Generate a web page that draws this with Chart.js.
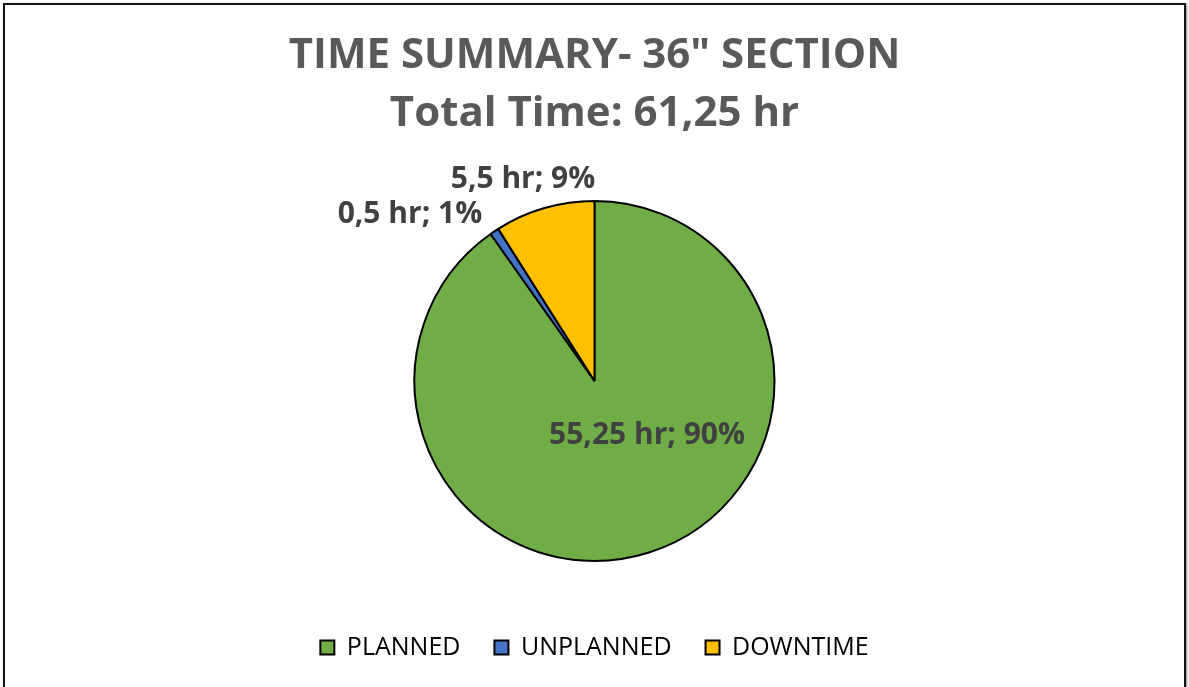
<!DOCTYPE html>
<html>
<head>
<meta charset="UTF-8">
<script src="https://cdn.jsdelivr.net/npm/chart.js@4.4.0/dist/chart.umd.min.js"></script>
<style>
*{box-sizing:border-box;margin:0;padding:0}
html,body{width:1189px;height:687px;overflow:hidden;background:#fff}
.frame{position:absolute;left:3px;top:3px;width:1183px;height:700px;border:2px solid #111;box-shadow:1px 1px 2px #888}
.cw{position:relative;width:1179px;height:682px}
</style>
</head>
<body>
<div class="frame"><div class="cw"><canvas id="pie"></canvas></div></div>
<script>
const categories = ["PLANNED", "UNPLANNED", "DOWNTIME"];
const hours = [55.25, 0.5, 5.5];
const hourLabels = ["55,25", "0,5", "5,5"];
const percentLabels = ["90%", "1%", "9%"];
const colors = ["#70AD47", "#4472C4", "#FFC000"];
const titleLines = ["TIME SUMMARY- 36\" SECTION", "Total Time: 61,25 hr"];

const textColor = "#595959";
const fontFamily = "'Open Sans', 'Noto Sans', sans-serif";

// labels placed around each slice: angle (deg, canvas) and radius factor
const sliceLabels = {
  id: "sliceLabels",
  afterDatasetsDraw(chart, args, opts) {
    const ctx = chart.ctx;
    const meta = chart.getDatasetMeta(0);
    ctx.save();
    ctx.font = "bold 30px " + fontFamily;
    ctx.fillStyle = "#404040";
    ctx.textAlign = "center";
    ctx.textBaseline = "middle";
    meta.data.forEach((arc, i) => {
      const p = opts.place[i];
      const a = p.angle * Math.PI / 180;
      const r = arc.outerRadius * p.r;
      const x = arc.x + Math.cos(a) * r;
      const y = arc.y + Math.sin(a) * r;
      ctx.fillText(hourLabels[i] + " hr; " + percentLabels[i], x, y);
    });
    ctx.restore();
  }
};

new Chart(document.getElementById("pie"), {
  type: "pie",
  data: {
    labels: categories,
    datasets: [{ data: hours, backgroundColor: colors, borderColor: "#000", borderWidth: 2 }]
  },
  options: {
    responsive: true, maintainAspectRatio: false, animation: false,
    radius: 180,
    layout: { padding: { top: 0, bottom: 17 } },
    plugins: {
      tooltip: { enabled: false },
      title: {
        display: true, text: titleLines, color: textColor,
        font: { family: fontFamily, size: 42, weight: "bold", lineHeight: 1.38 },
        padding: { top: 22, bottom: 18 }
      },
      legend: {
        position: "bottom",
        labels: {
          color: textColor, font: { family: fontFamily, size: 25 },
          boxWidth: 14, boxHeight: 14, padding: 34,
          generateLabels(chart) {
            return categories.map((c, i) => ({
              text: c, fillStyle: colors[i], strokeStyle: "#000", lineWidth: 2, hidden: false, index: i
            }));
          }
        }
      },
      sliceLabels: {
        place: [{ angle: 46, r: 0.42 }, { angle: -138, r: 1.38 }, { angle: -109.5, r: 1.19 }]
      }
    }
  },
  plugins: [sliceLabels]
});
</script>
</body>
</html>
